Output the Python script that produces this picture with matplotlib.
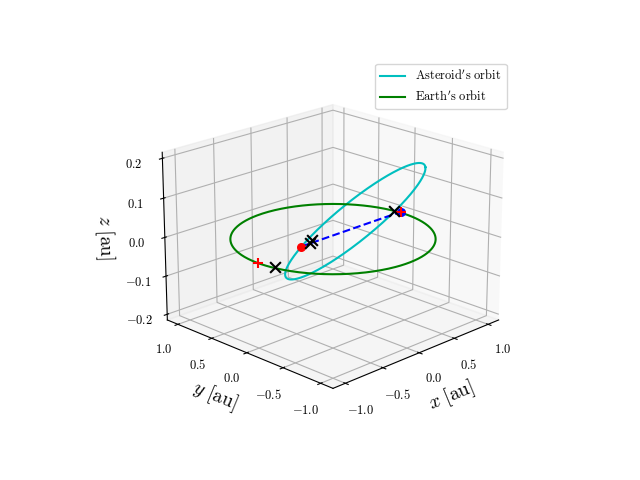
import numpy as np
import matplotlib
matplotlib.use("Agg")
import matplotlib.pyplot as plt

plt.rcParams["mathtext.fontset"] = "cm"
plt.rcParams["font.family"] = "serif"
plt.rcParams["font.serif"] = ["DejaVu Serif"]

# Asteroid orbit (in-plane ellipse parameters, plane tilted about the (1,1) line)
ast_center_u = 0.21
ast_semi_u = 0.68
ast_semi_w = 0.68
ast_slope = 0.2
earth_radius = 1.0

# Marker points (x, y, z)
black_x = [[-0.28, 0.04, 0.0], [-0.20, 0.09, 0.0], [-0.95, -0.18, 0.0], [0.98, 0.11, 0.0]]
red_plus = [[-1.0, 0.0, 0.0], [1.02, 0.05, 0.0]]
blue_dot = [1.02, 0.05, 0.0]
red_dot = [-0.40, 0.035, 0.0]

t = np.linspace(0, 2 * np.pi, 400)
u = ast_center_u + ast_semi_u * np.cos(t)
w = ast_semi_w * np.sin(t)
ax_x = (u + w) / np.sqrt(2)
ax_y = (w - u) / np.sqrt(2)
ax_z = ast_slope * u

fig = plt.figure(figsize=(6.4, 4.8), dpi=100)
ax = fig.add_subplot(111, projection="3d")
ax.view_init(elev=20, azim=-135)
ax.plot(ax_x, ax_y, ax_z, color="c", label=r"$\mathrm{Asteroid's\ orbit}$")
ax.plot(earth_radius * np.cos(t), earth_radius * np.sin(t), 0 * t, color="g",
        label=r"$\mathrm{Earth's\ orbit}$")
ax.plot([red_dot[0], blue_dot[0]], [red_dot[1], blue_dot[1]], [red_dot[2], blue_dot[2]],
        "b--", lw=1.5)
ax.scatter(*blue_dot, color="b", s=30, depthshade=False)
ax.scatter(*red_dot, color="r", s=30, depthshade=False)
bx = np.array(black_x)
ax.scatter(bx[:, 0], bx[:, 1], bx[:, 2], marker="x", color="k", s=60, linewidths=1.5, depthshade=False)
rp = np.array(red_plus)
ax.scatter(rp[:, 0], rp[:, 1], rp[:, 2], marker="+", color="r", s=60, linewidths=1.5, depthshade=False)

ax.set_xlim(-1.16, 1.16)
ax.set_ylim(-1.16, 1.16)
ax.set_zlim(-0.215, 0.215)
ax.set_xticks([-1.0, -0.5, 0.0, 0.5, 1.0])
ax.set_yticks([-1.0, -0.5, 0.0, 0.5, 1.0])
ax.set_zticks([-0.2, -0.1, 0.0, 0.1, 0.2])
for a in (ax.xaxis, ax.yaxis, ax.zaxis):
    a.set_major_formatter(matplotlib.ticker.FuncFormatter(lambda v, p: r"$%.1f$" % v if v >= 0 else r"$-%.1f$" % -v))
ax.tick_params(labelsize=9)
ax.set_xlabel(r"$x\ \mathrm{[au]}$", fontsize=14)
ax.set_ylabel(r"$y\ \mathrm{[au]}$", fontsize=14)
ax.set_zlabel(r"$z\ \mathrm{[au]}$", fontsize=14)
ax.legend(loc="upper right", fontsize=9)
fig.savefig("out.png")
